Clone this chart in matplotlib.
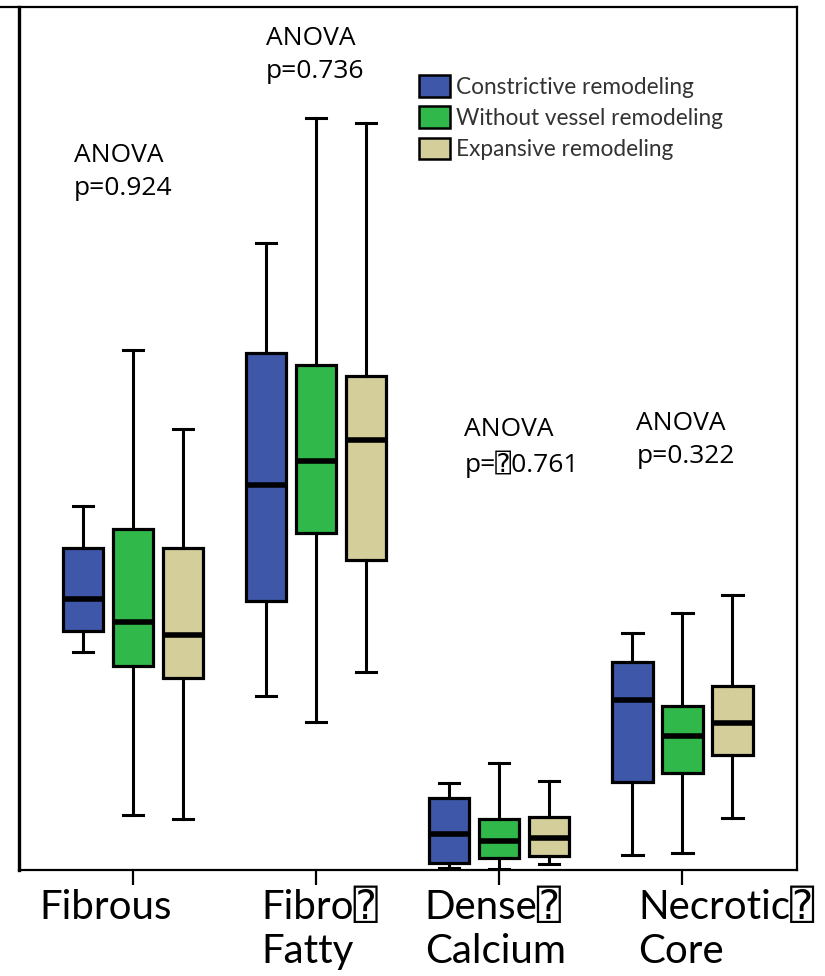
import matplotlib.pyplot as plt
from matplotlib.patches import Patch

# plaque components (one group of three boxes each)
groups = ['Fibrous', 'Fibro\u2370\nFatty', 'Dense\u2370\nCalcium', 'Necrotic\u2370\nCore']
series = ['Constrictive remodeling', 'Without vessel remodeling', 'Expansive remodeling']
colors = ['#3F57A8', '#31B84A', '#D4CF9A']

# box statistics, one list per series, one entry per group
whislo = [[25.3, 20.2, 0.2, 1.7],
          [6.4, 17.1, 0.1, 2.0],
          [5.9, 22.9, 0.7, 6.0]]
q1 = [[27.7, 31.2, 0.8, 10.2],
      [23.6, 39.1, 1.4, 11.2],
      [22.2, 35.9, 1.6, 13.3]]
med = [[31.4, 44.6, 4.2, 19.7],
       [28.7, 47.4, 3.4, 15.5],
       [27.2, 49.8, 3.7, 17.0]]
q3 = [[37.3, 59.9, 8.3, 24.1],
      [39.5, 58.5, 5.9, 19.0],
      [37.3, 57.2, 6.1, 21.3]]
whishi = [[42.2, 72.7, 10.1, 27.5],
          [60.3, 87.1, 12.4, 29.8],
          [51.1, 86.6, 10.3, 31.9]]

anova_p = ['p=0.924', 'p=0.736', 'p=\u23700.761', 'p=0.322']

fig = plt.figure(figsize=(8.25, 9.76), dpi=100)
ax = fig.add_axes([0.023, 0.1086, 0.9425, 0.8842])

offsets = [-0.273, 0.0, 0.273]
for s in range(3):
    stats = []
    for g in range(4):
        stats.append({'whislo': whislo[s][g], 'q1': q1[s][g], 'med': med[s][g],
                      'q3': q3[s][g], 'whishi': whishi[s][g], 'fliers': []})
    pos = [g + offsets[s] for g in range(4)]
    ax.bxp(stats, positions=pos, widths=0.22, patch_artist=True, showfliers=False,
           capwidths=0.11,
           boxprops=dict(facecolor=colors[s], edgecolor='black', linewidth=2.3),
           medianprops=dict(color='black', linewidth=4),
           whiskerprops=dict(color='black', linewidth=2.2),
           capprops=dict(color='black', linewidth=2.2))

ax.set_xlim(-0.623, 3.623)
ax.set_ylim(0, 100)
ax.set_yticks([])
ax.set_xticks(range(4))
ax.set_xticklabels([''] * 4)
ax.tick_params(axis='x', direction='out', length=11, width=1.6, color='black')
for sp in ax.spines.values():
    sp.set_linewidth(1.6)
    sp.set_color('black')
ax.spines['left'].set_linewidth(2.4)

# x labels, left aligned under each group
label_x = [-0.512, 0.700, 1.593, 2.757]
for g in range(4):
    ax.text(label_x[g], -0.022, groups[g], transform=ax.get_xaxis_transform(),
            ha='left', va='top', fontsize=29, linespacing=1.22,
            family=['Lato', 'DejaVu Sans', 'DejaVu Sans Mono'])

# ANOVA annotations
anova_xy = [(-0.322, 84.2), (0.727, 97.8), (1.809, 52.5), (2.749, 53.2)]
for g in range(4):
    ax.text(anova_xy[g][0], anova_xy[g][1], 'ANOVA\n' + anova_p[g],
            ha='left', va='top', fontsize=19, linespacing=1.42,
            family=['Open Sans', 'DejaVu Sans', 'DejaVu Sans Mono'])

handles = [Patch(facecolor=c, edgecolor='black', linewidth=1.8) for c in colors]
leg = ax.legend(handles, series, loc='upper left', bbox_to_anchor=(0.514, 0.921),
                frameon=False, handlelength=1.4, handleheight=1.1,
                handletextpad=0.25, labelspacing=0.38, borderpad=0, borderaxespad=0,
                prop={'family': 'Lato', 'size': 16.3})
for t in leg.get_texts():
    t.set_color('#333333')

# top rule runs on to the left edge of the picture
ax.plot([-0.623 - 19 / 183, -0.623], [100, 100], color='black', linewidth=1.6,
        clip_on=False, solid_capstyle='butt')

fig.savefig('out.png', dpi=100)
